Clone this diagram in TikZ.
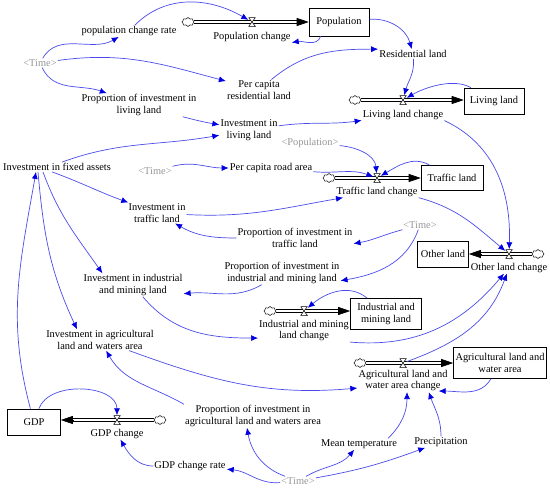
\documentclass[tikz,border=0pt]{standalone}
\usepackage{fontspec}
\setmainfont{Liberation Serif}
\usepackage{xcolor}
\usepackage{tikz}
\usetikzlibrary{positioning, calc, arrows.meta, shapes.symbols, backgrounds}

\definecolor{linkblue}{RGB}{75,75,235}
\definecolor{tipblue}{RGB}{0,0,225}
\definecolor{shadowgray}{RGB}{150,150,150}

\tikzset{
    stock/.style={rectangle, draw, line width=0.6pt, align=center, inner sep=2pt, minimum height=26pt},
    aux/.style={rectangle, draw=none, align=center, inner sep=1pt},
    shadow/.style={aux, text=shadowgray},
    valve/.style={rectangle, draw=none, inner sep=0pt, minimum width=7pt, minimum height=9pt,
        path picture={\filldraw[fill=white, line width=0.5pt] (path picture bounding box.north west) -- (path picture bounding box.north east) -- (path picture bounding box.south west) -- (path picture bounding box.south east) -- cycle;}},
    source/.style={cloud, cloud puffs=8, cloud ignores aspect, draw, fill=white, line width=0.5pt, inner sep=0pt, minimum width=12pt, minimum height=9pt},
    pipe/.style={double, double distance=2.2pt, line width=0.6pt, shorten >=11pt},
    pipehead/.style={line width=0.6pt, -{Triangle[length=12pt,width=8pt]}},
    link/.style={draw=linkblue, line width=0.7pt, -{Latex[length=7pt,width=6pt,color=tipblue]}}
}

\begin{document}
\begin{tikzpicture}[x=1pt, y=1pt, font=\fontsize{10.4pt}{11.5pt}\selectfont]
            \useasboundingbox (0,0) rectangle (550,-491);
            \node[stock, minimum width=60pt, minimum height=28pt] (pop) at (339,-22) {Population};
            \node[stock, minimum width=60pt] (liv) at (494,-101) {Living land};
            \node[stock, minimum width=62pt, minimum height=25pt] (tra) at (452,-178) {Traffic land};
            \node[stock, minimum width=51pt] (oth) at (443,-254) {Other land};
            \node[stock, minimum width=71pt, minimum height=31pt] (ind) at (386,-314) {Industrial and\\mining land};
            \node[stock, minimum width=93pt, minimum height=31pt] (agr) at (500,-363) {Agricultural land and\\water area};
            \node[stock, minimum width=53pt] (gdp) at (34,-422) {GDP};
            \node[valve] (v1) at (252,-22) {};
            \node[valve] (v2) at (403,-100) {};
            \node[valve] (v3) at (377,-178) {};
            \node[valve] (v4) at (509,-254) {};
            \node[valve] (v5) at (304,-311) {};
            \node[valve] (v6) at (403,-363) {};
            \node[valve] (v7) at (117,-420) {};
            \node[source] (c1) at (188,-22) {};
            \node[source] (c2) at (355,-100) {};
            \node[source] (c3) at (329,-178) {};
            \node[source] (c4) at (538,-254) {};
            \node[source] (c5) at (270,-311) {};
            \node[source] (c6) at (360,-363) {};
            \node[source] (c7) at (160,-420) {};
            \node[aux, below=4pt of v1] (l1) {Population change};
            \node[aux, below=4pt of v2] (l2) {Living land change};
            \node[aux, below=3pt of v3] (l3) {Traffic land change};
            \node[aux, below=3pt of v4] (l4) {Other land change};
            \node[aux, below=3pt of v5] (l5) {Industrial and mining\\land change};
            \node[aux, below=1pt of v6] (l6) {Agricultural land and\\water area change};
            \node[aux, below=3pt of v7] (l7) {GDP change};
            \coordinate (e1) at (v1 -| pop.west);
            \coordinate (e2) at (v2 -| liv.west);
            \coordinate (e3) at (v3 -| tra.west);
            \coordinate (e4) at (v4 -| oth.east);
            \coordinate (e5) at (v5 -| ind.west);
            \coordinate (e6) at (v6 -| agr.west);
            \coordinate (e7) at (v7 -| gdp.east);
            \begin{pgfonlayer}{background}
                \draw[pipe] (c1.east) -- (e1);
                \draw[pipe] (c2.east) -- (e2);
                \draw[pipe] (c3.east) -- (e3);
                \draw[pipe] (c4.west) -- (e4);
                \draw[pipe] (c5.east) -- (e5);
                \draw[pipe] (c6.east) -- (e6);
                \draw[pipe] (c7.west) -- (e7);
            \end{pgfonlayer}
            \draw[pipehead] ([xshift=-12pt]e1) -- (e1);
            \draw[pipehead] ([xshift=-12pt]e2) -- (e2);
            \draw[pipehead] ([xshift=-12pt]e3) -- (e3);
            \draw[pipehead] ([xshift=12pt]e4) -- (e4);
            \draw[pipehead] ([xshift=-12pt]e5) -- (e5);
            \draw[pipehead] ([xshift=-12pt]e6) -- (e6);
            \draw[pipehead] ([xshift=12pt]e7) -- (e7);
            \node[aux] (pcr) at (129,-31) {population change rate};
            \node[shadow] (t1) at (40,-63) {<Time>};
            \node[aux] (pcrl) at (259,-90) {Per capita\\residential land};
            \node[aux] (res) at (413,-54) {Residential land};
            \node[aux] (pil) at (139,-105) {Proportion of investment in\\living land};
            \node[aux] (inl) at (249,-130) {Investment in\\living land};
            \node[aux] (ifa) at (57,-167) {Investment in fixed assets};
            \node[shadow] (t2) at (155,-171) {<Time>};
            \node[aux] (pcra) at (271,-168) {Per capita road area};
            \node[shadow] (popsh) at (310,-143) {<Population>};
            \node[aux] (itl) at (157,-213) {Investment in\\traffic land};
            \node[aux] (ptl) at (295,-238) {Proportion of investment in\\traffic land};
            \node[shadow] (t3) at (420,-225) {<Time>};
            \node[aux] (pim) at (282,-273) {Proportion of investment in\\industrial and mining land};
            \node[aux] (iim) at (133,-285) {Investment in industrial\\and mining land};
            \node[aux] (iaw) at (100,-340) {Investment in agricultural\\land and waters area};
            \node[aux] (paw) at (253,-416) {Proportion of investment in\\agricultural land and waters area};
            \node[aux] (gcr) at (190,-466) {GDP change rate};
            \node[shadow] (t4) at (298,-481) {<Time>};
            \node[aux] (mt) at (359,-444) {Mean temperature};
            \node[aux] (pre) at (441,-442) {Precipitation};
            \draw[link] (t1) to[out=60,in=210] (pcr);
            \draw[link] (pcr) to[out=45,in=150] (v1);
            \draw[link] ([xshift=12pt]pop.south west) to[out=-110,in=10] (l1.south east);
            \draw[link] (t1) to[out=8,in=165] (pcrl);
            \draw[link] (t1) to[out=-65,in=160] (pil);
            \draw[link] (pop) to[out=5,in=105] (res);
            \draw[link] (pcrl) to[out=40,in=180] (res.north west);
            \draw[link] (res) to[out=-85,in=75] (v2);
            \draw[link] (liv) to[out=150,in=30,looseness=0.8] (v2);
            \draw[link] (pil) to[out=-15,in=170] (inl);
            \draw[link] ([xshift=5pt]ifa.north) to[out=20,in=190] (inl);
            \draw[link] (inl) to[out=8,in=188] (l2);
            \draw[link] (l2.south east) to[out=-25,in=88] (v4);
            \draw[link] (t2) to[out=15,in=180] (pcra);
            \draw[link] (pcra) to[out=-5,in=160] (v3);
            \draw[link] (popsh) to[out=-5,in=95] (v3);
            \draw[link] (tra) to[out=150,in=30] (v3);
            \draw[link] (itl) to[out=-3,in=190] (l3);
            \draw[link] (l3.south east) to[out=-15,in=140] (v4);
            \draw[link] ([xshift=-5pt]ifa.south) to[out=-20,in=160] (itl);
            \draw[link] ([xshift=-14pt]ifa.south) to[out=-70,in=125] ([xshift=20pt]iim.north west);
            \draw[link] ([xshift=-19pt]ifa.south) to[out=-85,in=115] ([xshift=32pt]iaw.north west);
            \draw[link] (gdp) to[out=105,in=-100] ([xshift=-21pt]ifa.south);
            \draw[link] (t3) to[out=-165,in=10] ([yshift=5pt]ptl.south east);
            \draw[link] (t3) to[out=-110,in=10] ([yshift=4pt]pim.south east);
            \draw[link] (ptl.west) to[out=180,in=-30] (itl);
            \draw[link] (pim) to[out=-150,in=5] ([yshift=3pt]iim.south east);
            \draw[link] (iim) to[out=-50,in=180] ([yshift=4pt]l5.south west);
            \draw[link] (ind) to[out=140,in=40] (v5);
            \draw[link] (l5.south east) to[out=-5,in=-130] (l4);
            \draw[link] (v6) to[out=20,in=-110] (l4);
            \draw[link] (iaw) to[out=-20,in=185] ([yshift=4pt]l6.south west);
            \draw[link] (paw.north west) to[out=150,in=-60] (iaw);
            \draw[link] (agr) to[out=-120,in=0] ([xshift=-10pt,yshift=1pt]l6.south east);
            \draw[link] ([xshift=-10pt]mt.north east) to[out=45,in=-90] ([xshift=4pt]l6.south);
            \draw[link] (pre) to[out=90,in=-70] ([xshift=-20pt]l6.south east);
            \draw[link] (t4) to[out=30,in=-130] (mt);
            \draw[link] (t4) to[out=10,in=-160] (pre);
            \draw[link] (t4) to[out=160,in=-80] ([xshift=-6pt]paw.south);
            \draw[link] (t4) to[out=-175,in=-5] (gcr);
            \draw[link] (gcr) to[out=180,in=-60] (l7);
            \draw[link] (gdp) to[out=70,in=90] (v7);
\end{tikzpicture}
\end{document}
